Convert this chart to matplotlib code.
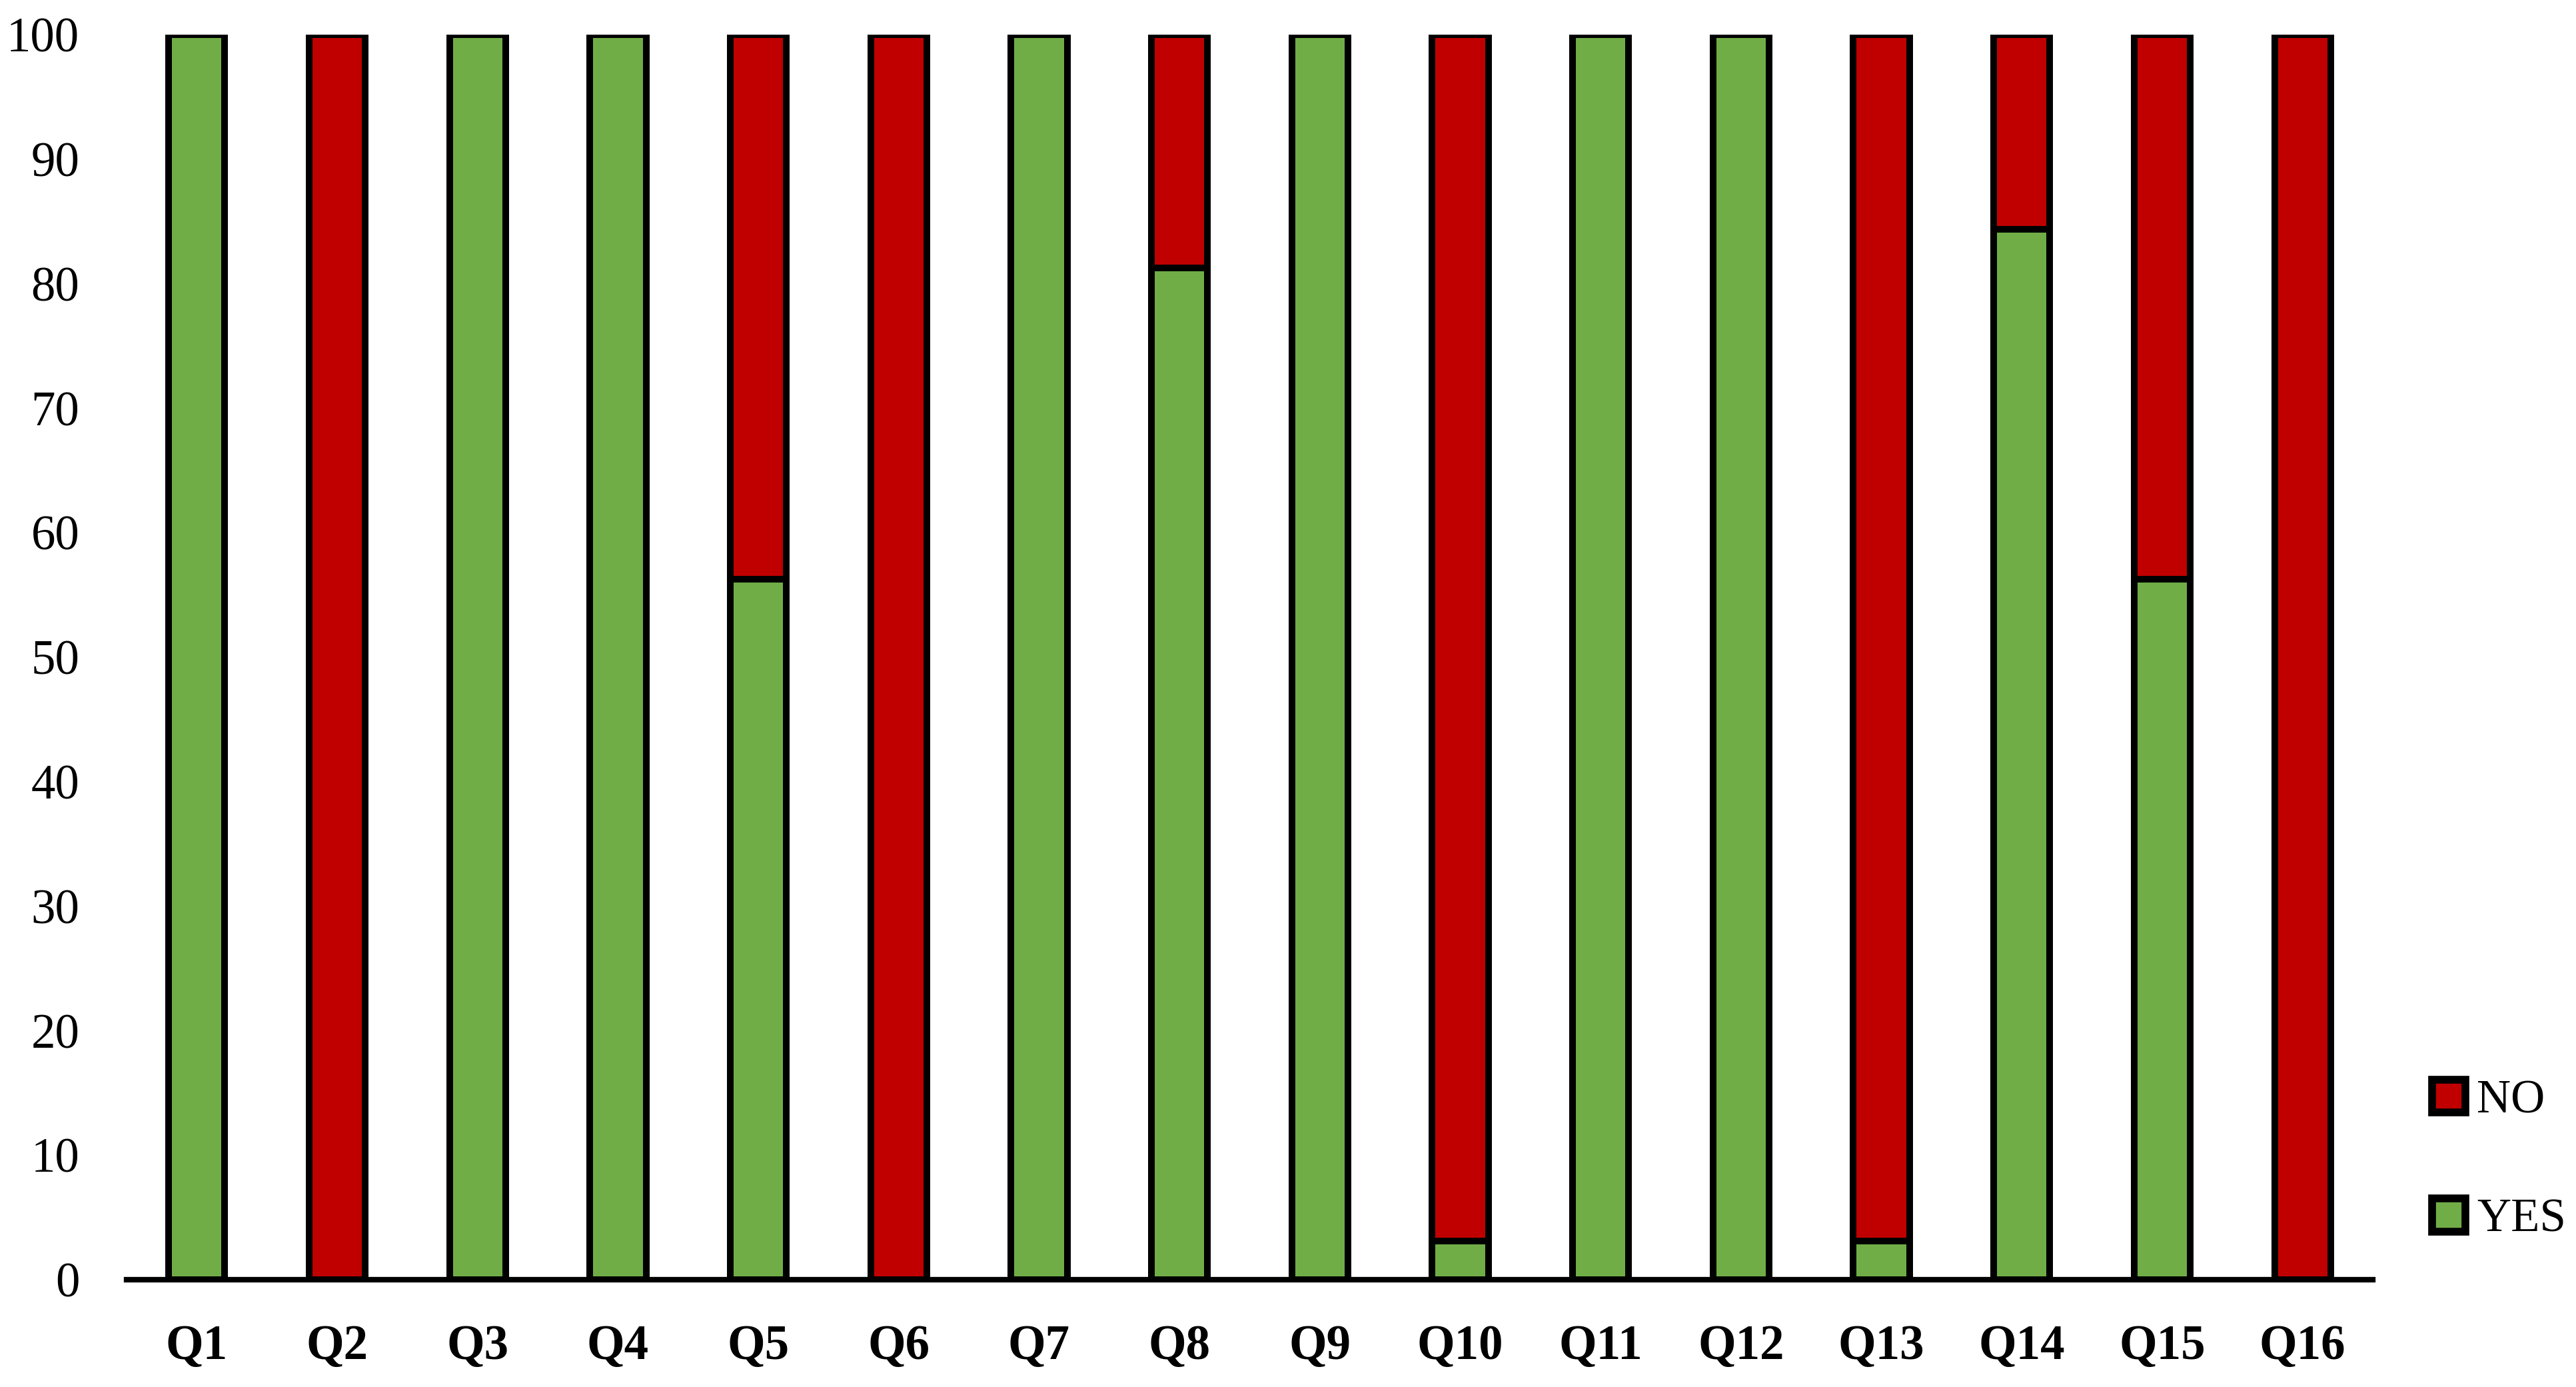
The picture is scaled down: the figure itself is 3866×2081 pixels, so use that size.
"""Stacked YES/NO percentage bars per question."""
import matplotlib

matplotlib.use("Agg")
import matplotlib.pyplot as plt
import numpy as np

questions = ["Q1", "Q2", "Q3", "Q4", "Q5", "Q6", "Q7", "Q8",
             "Q9", "Q10", "Q11", "Q12", "Q13", "Q14", "Q15", "Q16"]
yes_pct = [100, 0, 100, 100, 56.25, 0, 100, 81.25,
           100, 3.125, 100, 100, 3.125, 84.375, 56.25, 0]
no_pct = [100 - v for v in yes_pct]
y_ticks = [0, 10, 20, 30, 40, 50, 60, 70, 80, 90, 100]

GREEN = "#70AD47"
RED = "#C00000"

plt.rcParams["font.family"] = ["Liberation Serif", "DejaVu Serif"]

W, H, DPI = 3866, 2081, 300
fig = plt.figure(figsize=(W / DPI, H / DPI), dpi=DPI)
ax = fig.add_axes([190 / W, 1 - 1920 / H, (3561 - 190) / W, (1920 - 52) / H])

x = np.arange(len(questions))
width = 0.40
ax.bar(x, yes_pct, width, color=GREEN, edgecolor="black", linewidth=2.4,
       label="YES", zorder=3)
ax.bar(x, no_pct, width, bottom=yes_pct, color=RED, edgecolor="black",
       linewidth=2.4, label="NO", zorder=3)

ax.set_xlim(-0.5, len(questions) - 0.5)
ax.set_ylim(0, 100)
ax.set_yticks(y_ticks)
ax.set_yticklabels([str(t) for t in y_ticks], fontsize=17.5)
ax.set_xticks(x)
ax.set_xticklabels(questions, fontsize=17.5, fontweight="bold")
ax.tick_params(axis="both", length=0)
ax.tick_params(axis="y", pad=17)
ax.tick_params(axis="x", pad=16)
for side in ("left", "right", "top"):
    ax.spines[side].set_visible(False)
ax.spines["bottom"].set_linewidth(2.0)
ax.spines["bottom"].set_zorder(4)

handles, labels = ax.get_legend_handles_labels()
leg = fig.legend(handles[::-1], labels[::-1], loc="center left",
                 bbox_to_anchor=(3650 / W, 1 - 1741 / H), frameon=False,
                 fontsize=17, handlelength=0.7, handleheight=0.7,
                 handletextpad=0.25, labelspacing=1.6, borderpad=0,
                 borderaxespad=0)
for patch in leg.get_patches():
    patch.set_linewidth(2.8)

fig.savefig("out.png", dpi=DPI)
plt.close(fig)
